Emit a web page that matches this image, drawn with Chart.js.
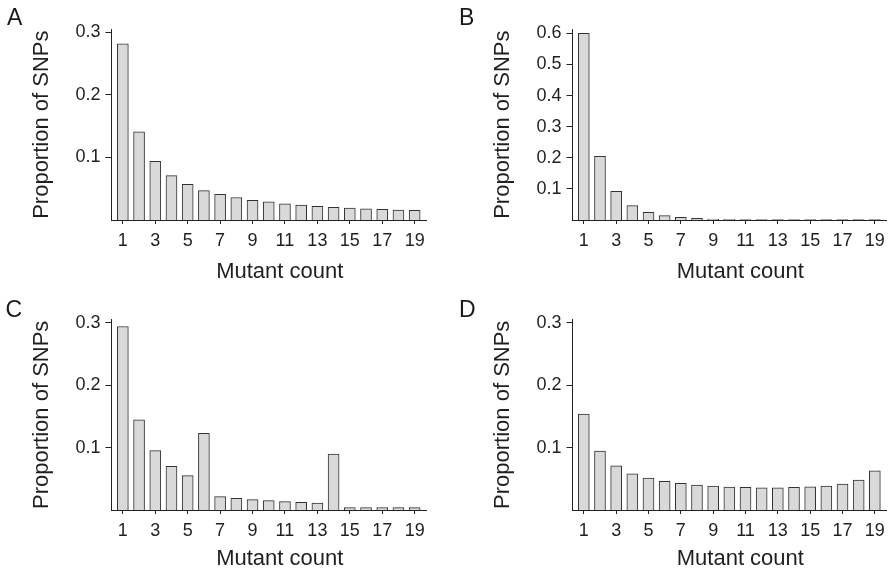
<!DOCTYPE html>
<html>
<head>
<meta charset="utf-8">
<script src="https://cdn.jsdelivr.net/npm/chart.js@4.4.1/dist/chart.umd.min.js"></script>
<style>
  html, body { margin: 0; padding: 0; background: #fff; }
  #wrap { position: relative; width: 891px; height: 576px; overflow: hidden; background: #fff; }
  canvas { position: absolute; }
  .lbl { position: absolute; font-family: "Liberation Sans", Arial, sans-serif; font-size: 23px; line-height: 23px; color: #1a1a1a; }
</style>
</head>
<body>
<div id="wrap">
  <canvas id="cA" width="445" height="288" style="left:0px;top:0px"></canvas>
  <canvas id="cB" width="446" height="288" style="left:445px;top:0px"></canvas>
  <canvas id="cC" width="445" height="288" style="left:0px;top:288px"></canvas>
  <canvas id="cD" width="446" height="288" style="left:445px;top:288px"></canvas>
  <div class="lbl" style="left:7px;top:5.5px">A</div>
  <div class="lbl" style="left:459px;top:5.5px">B</div>
  <div class="lbl" style="left:5.5px;top:297.5px">C</div>
  <div class="lbl" style="left:459px;top:297.5px">D</div>
</div>
<script>
// ---- data ----
const mutantCounts = [1,2,3,4,5,6,7,8,9,10,11,12,13,14,15,16,17,18,19];
const xTickValues = [1,3,5,7,9,11,13,15,17,19];

const propA = [0.282,0.141,0.094,0.071,0.057,0.047,0.041,0.036,0.0315,0.029,0.026,0.024,0.022,0.0203,0.019,0.018,0.017,0.016,0.0155];
const propB = [0.600,0.205,0.092,0.046,0.025,0.014,0.0087,0.005,0.003,0.002,0.0015,0.0012,0.001,0.001,0.001,0.001,0.001,0.001,0.001];
const propC = [0.294,0.1445,0.095,0.070,0.055,0.123,0.0213,0.0187,0.0165,0.015,0.0133,0.0123,0.0112,0.0896,0.0037,0.0037,0.0037,0.0037,0.0037];
const propD = [0.1536,0.0944,0.0709,0.058,0.0512,0.0459,0.0427,0.040,0.0384,0.0368,0.0363,0.0357,0.0357,0.0363,0.0373,0.0384,0.0416,0.048,0.0629];

const yTicksSmall = [0.1, 0.2, 0.3];
const yLabelsSmall = ["0.1", "0.2", "0.3"];
const yTicksLarge = [0.1, 0.2, 0.3, 0.4, 0.5, 0.6];
const yLabelsLarge = ["0.1", "0.2", "0.3", "0.4", "0.5", "0.6"];

const xTitle = "Mutant count";
const yTitle = "Proportion of SNPs";

// ---- drawing ----
const FONT = "'Liberation Sans', Arial, Helvetica, sans-serif";
const INK = '#1f1f1f';

function makePanel(id, values, yMax, yTicks, yLabels, geo) {
  const H = 288;
  const top = geo.bottom - yMax * geo.pxPerUnit;
  new Chart(document.getElementById(id), {
    type: 'bar',
    data: {
      datasets: [{
        data: mutantCounts.map((c, i) => ({ x: c, y: values[i] })),
        backgroundColor: '#d9d9d9',
        borderColor: '#333333',
        borderWidth: 1,
        barThickness: 11
      }]
    },
    options: {
      responsive: false,
      animation: false,
      devicePixelRatio: 1,
      layout: { padding: { top: top, left: 0, right: geo.right, bottom: 0 } },
      plugins: { legend: { display: false }, tooltip: { enabled: false }, title: { display: false } },
      scales: {
        x: {
          type: 'linear',
          offset: false,
          min: 0.3,
          max: 19.7,
          afterBuildTicks: s => { s.ticks = xTickValues.map(v => ({ value: v })); },
          afterFit: s => { s.height = H - geo.bottom; },
          ticks: {
            autoSkip: false,
            maxRotation: 0,
            padding: 6,
            color: INK,
            font: { family: FONT, size: 18 },
            callback: v => String(v)
          },
          grid: { display: true, offset: false, drawOnChartArea: false, drawTicks: true, tickLength: 4, tickWidth: 1, tickColor: '#222' },
          border: { display: true, color: '#222', width: 1 },
          title: {
            display: true,
            text: '\u2002\u2002' + xTitle,
            color: INK,
            font: { family: FONT, size: 22 },
            padding: { top: 0, bottom: geo.xTitlePad }
          }
        },
        y: {
          type: 'linear',
          min: 0,
          max: yMax,
          afterBuildTicks: s => { s.ticks = yTicks.map(v => ({ value: v })); },
          afterFit: s => { s.width = geo.left; },
          ticks: {
            padding: 5,
            color: INK,
            font: { family: FONT, size: 18 },
            callback: (v, i) => yLabels[i]
          },
          grid: { display: true, drawOnChartArea: false, drawTicks: true, tickLength: 6, tickWidth: 1, tickColor: '#222' },
          border: { display: true, color: '#222', width: 1 },
          title: {
            display: true,
            text: yTitle,
            color: INK,
            font: { family: FONT, size: 22 },
            padding: { top: geo.yTitlePad, bottom: 0 }
          }
        }
      }
    }
  });
}

makePanel('cA', propA, 0.305, yTicksSmall, yLabelsSmall,
  { left: 111.5, right: 19, bottom: 220, pxPerUnit: 625, xTitlePad: 2.6, yTitlePad: 29.1 });
makePanel('cB', propB, 0.613, yTicksLarge, yLabelsLarge,
  { left: 127.5, right: 4, bottom: 220, pxPerUnit: 311.1, xTitlePad: 2.6, yTitlePad: 44.4 });
makePanel('cC', propC, 0.305, yTicksSmall, yLabelsSmall,
  { left: 111.5, right: 19, bottom: 222, pxPerUnit: 624.3, xTitlePad: 3.6, yTitlePad: 29.1 });
makePanel('cD', propD, 0.305, yTicksSmall, yLabelsSmall,
  { left: 127.5, right: 4, bottom: 222, pxPerUnit: 624.3, xTitlePad: 3.6, yTitlePad: 44.4 });
</script>
</body>
</html>
